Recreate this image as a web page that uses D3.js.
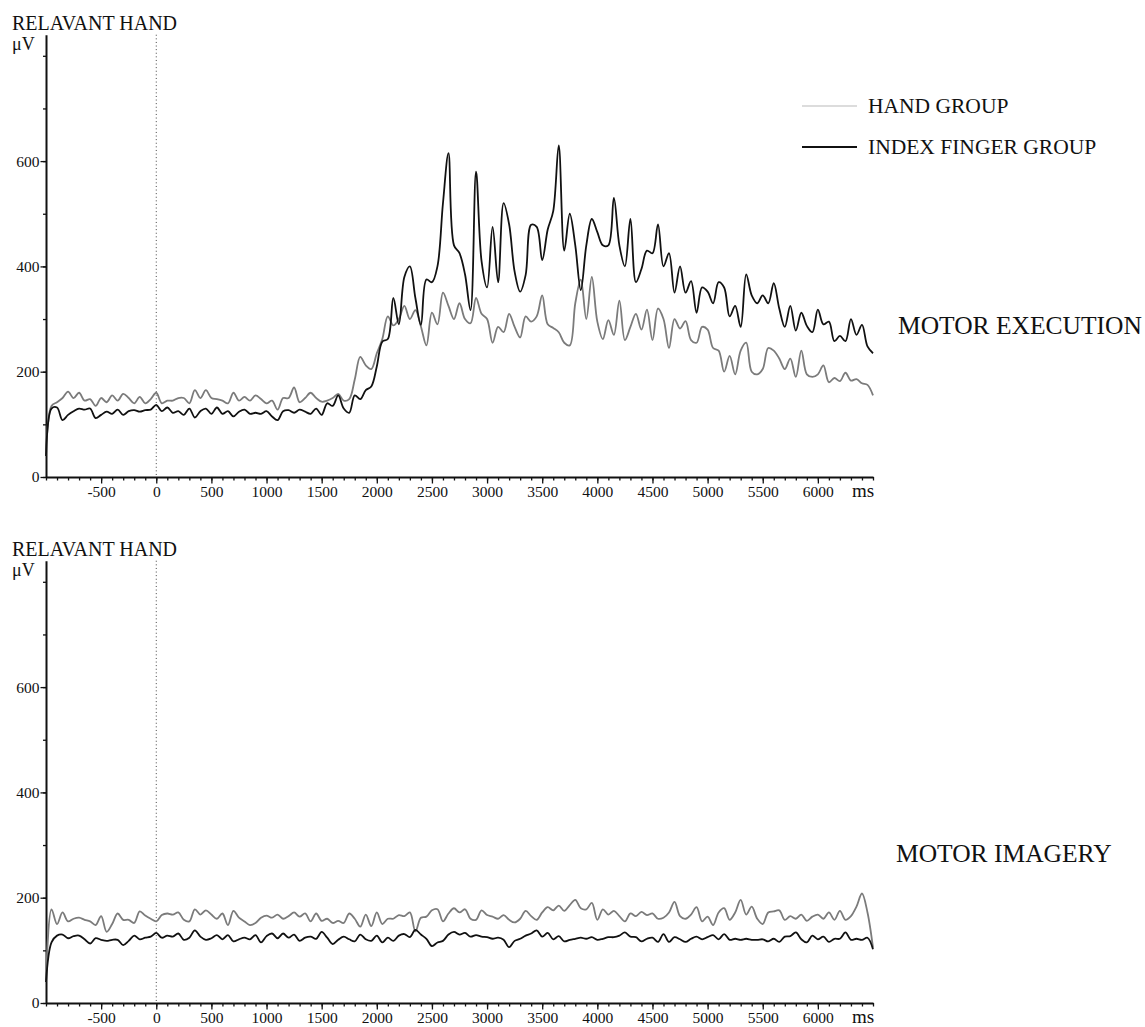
<!DOCTYPE html>
<html><head><meta charset="utf-8">
<script src="https://cdn.jsdelivr.net/npm/d3@7"></script>
<style>
html,body{margin:0;padding:0;background:#fff;}
svg{display:block;font-family:"Liberation Serif","Times New Roman",serif;}
</style></head><body>
<svg id="chart" width="1145" height="1027"></svg>
<script>
// ---- DATA (µV, sampled every 50 ms from -1000 to 6500 ms) ----
const timesMs = d3.range(-1000, 6501, 50);

const execHand = [
  40,135,142,150,162,150,160,145,148,135,
  150,142,155,145,158,150,140,152,140,148,
  160,140,145,145,150,150,140,165,150,165,
  150,148,145,140,160,145,152,145,155,148,
  140,145,128,150,150,170,142,150,160,150,
  143,145,150,158,145,148,185,228,212,205,
  235,262,305,288,300,325,300,317,286,250,
  312,290,350,325,300,330,300,292,340,310,
  300,255,285,275,310,285,265,305,295,305,
  345,290,283,275,255,250,330,375,300,380,
  295,262,298,270,335,260,285,310,280,318,
  260,320,300,245,300,282,296,260,255,285,
  280,245,240,200,230,195,240,255,200,195,
  205,245,240,225,205,225,190,240,195,190,
  195,212,180,188,182,198,183,186,178,175,
  155
];
const execIndex = [
  40,130,132,108,118,125,130,128,130,112,
  118,124,120,128,118,125,127,124,127,128,
  137,125,132,122,125,118,130,113,125,130,
  120,132,120,125,115,124,128,120,122,120,
  125,115,108,125,127,122,128,124,120,130,
  118,140,135,155,130,122,155,148,165,172,
  210,257,262,340,290,380,400,340,289,375,
  370,400,520,615,440,425,385,317,580,410,
  360,475,370,520,480,390,352,384,479,475,
  412,470,505,630,430,500,440,355,440,490,
  465,440,440,530,440,400,490,370,395,430,
  425,480,400,425,350,400,350,372,312,360,
  352,330,370,360,305,325,285,385,345,330,
  345,330,368,320,285,325,278,312,287,275,
  318,290,295,258,268,258,300,270,289,248,
  235
];
const imagHand = [
  40,178,150,172,155,160,162,158,155,148,
  165,135,150,170,158,158,152,174,166,160,
  155,167,170,168,172,158,155,178,168,176,
  168,160,170,148,175,162,155,148,152,162,
  166,162,168,160,165,172,164,170,155,170,
  156,160,152,156,152,170,160,145,168,146,
  172,150,160,160,167,165,172,136,162,164,
  176,178,155,170,180,172,178,160,158,176,
  167,164,160,167,158,153,160,175,165,158,
  172,182,176,185,175,186,196,180,178,190,
  158,178,168,175,165,155,170,165,173,167,
  170,160,162,172,192,165,160,168,182,155,
  164,148,172,180,158,172,196,168,183,160,
  150,172,174,176,158,165,160,168,156,164,
  168,160,172,158,175,158,165,183,208,172,
  105
];
const imagIndex = [
  40,115,128,130,123,127,128,121,113,123,
  120,118,120,120,110,118,128,121,124,126,
  133,124,128,126,132,120,124,138,126,120,
  123,129,121,129,117,121,124,121,129,115,
  127,132,123,132,124,130,118,124,126,122,
  135,124,112,120,126,121,117,130,121,118,
  128,115,124,118,128,131,125,139,130,122,
  108,115,118,130,135,130,133,126,129,126,
  125,122,124,120,106,118,122,128,132,138,
  126,133,121,127,117,120,122,124,122,125,
  120,122,125,125,128,134,126,125,117,122,
  124,116,131,116,125,121,116,122,126,121,
  125,129,121,131,120,122,120,122,120,120,
  121,117,122,116,126,127,134,121,115,128,
  121,126,116,122,122,134,120,122,120,124,
  102
];

const xTickLabels = [-500,0,500,1000,1500,2000,2500,3000,3500,4000,4500,5000,5500,6000];
const xMinorTicks = d3.range(-1000, 6501, 100);
const yTickLabels = [0,200,400,600];
const yMinorTicks = [0,100,200,300,400,500,600,700,800];
const panelTitles = ["MOTOR EXECUTION","MOTOR IMAGERY"];
const legendLabels = ["HAND GROUP","INDEX FINGER GROUP"];
const headerText = "RELAVANT HAND";
const unitY = "\u03BCV";
const unitX = "ms";

// ---- LAYOUT / STYLE ----
const handColor = "#7b7b7b";
const handLegendColor = "#dcdcdc";
const indexColor = "#111";
const svg = d3.select("#chart");
const x = d3.scaleLinear().domain([-1000, 6500]).range([46, 873]);

const panels = [
  {off: 0,   hand: execHand, index: execIndex, title: panelTitles[0], tx: 898, ty: 334, legend: true},
  {off: 526, hand: imagHand, index: imagIndex, title: panelTitles[1], tx: 896, ty: 862, legend: false}
];

panels.forEach(p => {
  const y0 = 477 + p.off;
  const y = d3.scaleLinear().domain([0, 840]).range([y0, y0 - 840 * 0.5265]);
  const g = svg.append("g");

  // zero dotted line
  g.append("line")
    .attr("x1", x(0)).attr("x2", x(0))
    .attr("y1", y(840)).attr("y2", y(0))
    .attr("stroke", "#444").attr("stroke-width", 1)
    .attr("stroke-dasharray", "1,2.6");

  // x axis minor
  const gxMinor = g.append("g").attr("transform", `translate(0,${y0})`)
    .call(d3.axisBottom(x).tickValues(xMinorTicks).tickSize(3.5).tickSizeOuter(0).tickFormat(""));
  gxMinor.select(".domain").attr("stroke", "#111").attr("stroke-width", 2);
  gxMinor.selectAll(".tick line").attr("stroke", "#111").attr("stroke-width", 1.3);

  const gx = g.append("g").attr("transform", `translate(0,${y0})`)
    .call(d3.axisBottom(x).tickValues(xTickLabels).tickSize(6.5).tickSizeOuter(0).tickPadding(2.5).tickFormat(d => String(d)));
  gx.select(".domain").remove();
  gx.selectAll(".tick line").attr("stroke", "#111").attr("stroke-width", 1.3);
  gx.selectAll(".tick text").attr("font-family", "Liberation Serif, serif").attr("font-size", 15.5).attr("fill", "#111");

  // y axis minor
  const gyMinor = g.append("g").attr("transform", `translate(46,0)`)
    .call(d3.axisLeft(y).tickValues(yMinorTicks).tickSize(3).tickSizeOuter(0).tickFormat(""));
  gyMinor.select(".domain").attr("stroke", "#111").attr("stroke-width", 2);
  gyMinor.selectAll(".tick line").attr("stroke", "#111").attr("stroke-width", 1.3);

  const gy = g.append("g").attr("transform", `translate(46,0)`)
    .call(d3.axisLeft(y).tickValues(yTickLabels).tickSize(5.5).tickSizeOuter(0).tickPadding(1).tickFormat(d => String(d)));
  gy.select(".domain").remove();
  gy.selectAll(".tick line").attr("stroke", "#111").attr("stroke-width", 1.3);
  gy.selectAll(".tick text").attr("font-family", "Liberation Serif, serif").attr("font-size", 15.5).attr("fill", "#111");

  // series lines
  const line = d3.line()
    .x((d, i) => x(timesMs[i]))
    .y(d => y(d))
    .curve(d3.curveCatmullRom.alpha(0.5));

  g.append("path").datum(p.hand)
    .attr("d", line).attr("fill", "none")
    .attr("stroke", handColor).attr("stroke-width", 1.8).attr("stroke-linejoin", "round");
  g.append("path").datum(p.index)
    .attr("d", line).attr("fill", "none")
    .attr("stroke", indexColor).attr("stroke-width", 1.8).attr("stroke-linejoin", "round");

  // texts
  g.append("text").attr("x", 12).attr("y", 30 + p.off)
    .attr("font-size", 20).attr("fill", "#111").text(headerText);
  g.append("text").attr("x", 12).attr("y", 50 + p.off)
    .attr("font-size", 18).attr("fill", "#111").text(unitY);
  g.append("text").attr("x", 852).attr("y", 497 + p.off)
    .attr("font-size", 19).attr("fill", "#111").text(unitX);
  g.append("text").attr("x", p.tx).attr("y", p.ty)
    .attr("font-size", 25.5).attr("fill", "#111").text(p.title);

  if (p.legend) {
    const items = [
      {label: legendLabels[0], color: handLegendColor, y: 106},
      {label: legendLabels[1], color: indexColor, y: 147}
    ];
    items.forEach(it => {
      g.append("line").attr("x1", 802).attr("x2", 857)
        .attr("y1", it.y).attr("y2", it.y)
        .attr("stroke", it.color).attr("stroke-width", 2);
      g.append("text").attr("x", 868).attr("y", it.y + 7)
        .attr("font-size", 21.5).attr("fill", "#111").text(it.label);
    });
  }
});
</script>
</body></html>
